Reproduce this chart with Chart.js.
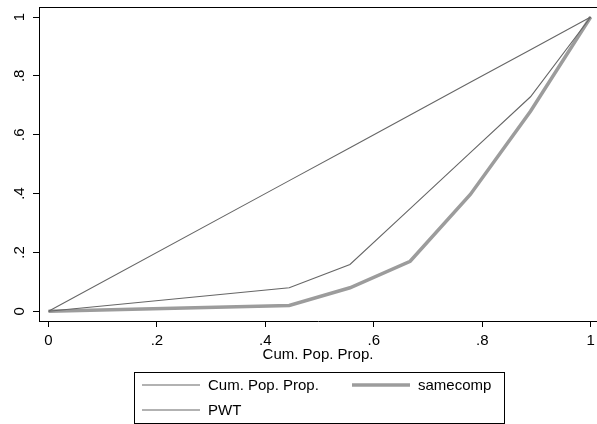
<!DOCTYPE html>
<html>
<head>
<meta charset="utf-8">
<title>Lorenz curves</title>
<script src="https://cdn.jsdelivr.net/npm/chart.js@4.4.1/dist/chart.umd.min.js"></script>
<style>
    html, body { margin: 0; padding: 0; background: #fff; }
    #wrap { width: 597px; height: 424px; position: relative; }
</style>
</head>
<body>
<div id="wrap"><canvas id="lorenz" width="597" height="424"></canvas></div>
<script>
    // Cumulative population shares (ninths)
    const popShare = [0, 0.444, 0.556, 0.667, 0.778, 0.889, 1];
    // Line of equality
    const equality = [0, 0.444, 0.556, 0.667, 0.778, 0.889, 1];
    const pwt = [0, 0.080, 0.159, 0.349, 0.539, 0.729, 1];
    const samecomp = [0, 0.020, 0.080, 0.170, 0.397, 0.680, 1];
    const tickValues = [0, 0.2, 0.4, 0.6, 0.8, 1];

    const FONT = "'Liberation Sans', Arial, sans-serif";

    function points(ys) {
        return popShare.map(function(x, i) { return { x: x, y: ys[i] }; });
    }

    // Stata-style labels: drop the leading zero
    function fmt(v) {
        return v === 0 ? '0' : v === 1 ? '1' : String(+v.toFixed(1)).replace(/^0/, '');
    }

    /**
     * Top edge of the plot region
     */
    const frameTop = {
        id: 'frameTop',
        afterDraw: function(chart) {
            const a = chart.chartArea;
            const ctx = chart.ctx;
            ctx.save();
            ctx.strokeStyle = '#000';
            ctx.lineWidth = 1;
            ctx.beginPath();
            ctx.moveTo(a.left, a.top + 0.5);
            ctx.lineTo(chart.width, a.top + 0.5);
            ctx.stroke();
            ctx.restore();
        }
    };

    /**
     * Vertical tick labels, turned a quarter on the y axis
     */
    const yLabels = {
        id: 'yLabels',
        afterDraw: function(chart) {
            const scale = chart.scales.y;
            const ctx = chart.ctx;
            ctx.save();
            ctx.fillStyle = '#000';
            ctx.font = '15px ' + FONT;
            ctx.textAlign = 'center';
            ctx.textBaseline = 'middle';
            scale.ticks.forEach(function(t) {
                const py = scale.getPixelForValue(t.value);
                ctx.save();
                ctx.translate(20, py);
                ctx.rotate(-Math.PI / 2);
                ctx.fillText(fmt(t.value), 0, 0);
                ctx.restore();
            });
            ctx.restore();
        }
    };

    /**
     * Boxed two-column legend under the axis title
     */
    const legendBox = {
        id: 'legendBox',
        afterDraw: function(chart) {
            const ctx = chart.ctx;
            const ds = chart.data.datasets;
            const slots = [
                { x: 142, y: 385 },
                { x: 142, y: 410 },
                { x: 352, y: 385 }
            ];
            ctx.save();
            ctx.strokeStyle = '#000';
            ctx.lineWidth = 1;
            ctx.strokeRect(134.5, 372.5, 370, 51);
            ctx.font = '15px ' + FONT;
            ctx.fillStyle = '#000';
            ctx.textAlign = 'left';
            ctx.textBaseline = 'middle';
            ds.forEach(function(d, i) {
                const s = slots[i];
                ctx.strokeStyle = d.borderColor;
                ctx.lineWidth = d.borderWidth;
                ctx.beginPath();
                ctx.moveTo(s.x, s.y);
                ctx.lineTo(s.x + 58, s.y);
                ctx.stroke();
                ctx.fillText(d.label, s.x + 66, s.y + 1);
            });
            ctx.restore();
        }
    };

    new Chart(document.getElementById('lorenz'), {
        type: 'line',
        data: {
            datasets: [{
                label: 'Cum. Pop. Prop.',
                data: points(equality),
                borderColor: '#666',
                borderWidth: 1.1,
                pointRadius: 0,
                order: 1
            }, {
                label: 'PWT',
                data: points(pwt),
                borderColor: '#666',
                borderWidth: 1.1,
                pointRadius: 0,
                order: 2
            }, {
                label: 'samecomp',
                data: points(samecomp),
                borderColor: '#9c9c9c',
                borderWidth: 3.5,
                pointRadius: 0,
                order: 3
            }]
        },
        options: {
            responsive: false,
            animation: false,
            devicePixelRatio: 1,
            layout: { padding: { left: 0, right: 0, top: 7, bottom: 60 } },
            plugins: {
                legend: { display: false },
                tooltip: { enabled: false }
            },
            scales: {
                x: {
                    type: 'linear',
                    min: -0.0175,
                    max: 1.0116,
                    afterBuildTicks: function(scale) {
                        scale.ticks = tickValues.map(function(v) { return { value: v }; });
                    },
                    afterFit: function(scale) {
                        scale.height = 43;
                        // let the plot run to the canvas edge
                        scale.paddingLeft = 0;
                        scale.paddingRight = 0;
                    },
                    border: { color: '#000', width: 1 },
                    grid: { drawOnChartArea: false, color: '#000', tickLength: 6 },
                    ticks: {
                        color: '#000',
                        font: { family: FONT, size: 15 },
                        padding: 5,
                        maxRotation: 0,
                        callback: function(v) { return fmt(v); }
                    },
                    title: {
                        display: true,
                        text: 'Cum. Pop. Prop.',
                        color: '#000',
                        font: { family: FONT, size: 15 },
                        padding: { top: 0, bottom: 0 }
                    }
                },
                y: {
                    type: 'linear',
                    min: -0.033,
                    max: 1.034,
                    afterBuildTicks: function(scale) {
                        scale.ticks = tickValues.map(function(v) { return { value: v }; });
                    },
                    afterFit: function(scale) { scale.width = 39; },
                    border: { color: '#000', width: 1 },
                    grid: { drawOnChartArea: false, color: '#000', tickLength: 6 },
                    ticks: { display: false }
                }
            }
        },
        plugins: [frameTop, yLabels, legendBox]
    });
</script>
</body>
</html>
